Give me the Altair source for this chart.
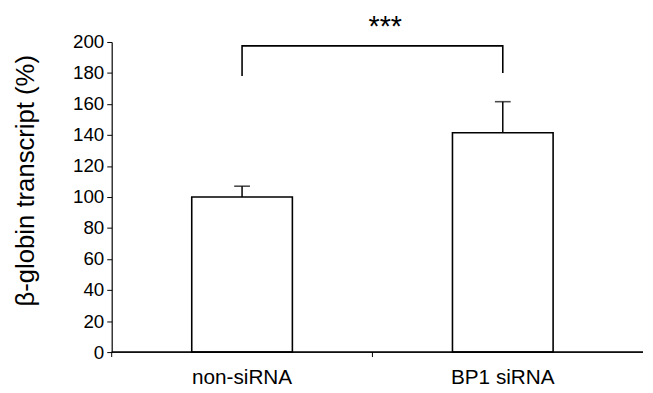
import altair as alt
import pandas as pd

categories = ["non-siRNA", "BP1 siRNA"]
means = [100, 141.5]
errors = [7, 20]
bracket_cat = ["non-siRNA", "non-siRNA", "BP1 siRNA", "BP1 siRNA"]
bracket_y = [178, 197.5, 197.5, 180]
sig_label = "***"
y_ticks = [0, 20, 40, 60, 80, 100, 120, 140, 160, 180, 200]

df = pd.DataFrame({"cat": categories, "mean": means, "err": errors})
df["upper"] = df["mean"] + df["err"]
br = pd.DataFrame({"cat": bracket_cat, "y": bracket_y, "order": list(range(len(bracket_y)))})

FONT = "Liberation Sans"
W, H = 528, 314
PI = 0.614
STEP = W / len(categories)

xscale = alt.Scale(domain=categories, paddingInner=PI, paddingOuter=PI / 2)
yscale = alt.Scale(domain=[0, 200], nice=False)

xaxis = alt.Axis(title=None, labelAngle=0, domain=False, ticks=False,
                 labelFontSize=21, labelFont=FONT, labelColor="black",
                 labelPadding=15)
yaxis = alt.Axis(values=y_ticks, title="β-globin transcript (%)",
                 titleFont=FONT, titleFontSize=26, titleFontWeight="normal",
                 titleColor="black", titlePadding=34, titleY=140,
                 labelFont=FONT, labelFontSize=19, labelColor="black",
                 labelPadding=3, tickSize=5, tickColor="black",
                 tickWidth=1, domainColor="black", domainWidth=1.2,
                 labelOverlap=False, grid=False)


def X(field="cat:N", **kw):
    return alt.X(field, scale=xscale, sort=categories, axis=xaxis, **kw)


def Y(field):
    return alt.Y(field, scale=yscale, axis=yaxis)


base = alt.Chart(df)
bars = base.mark_bar(fill="white", stroke="black", strokeWidth=1.6).encode(x=X(), y=Y("mean:Q"))

err_rule = base.mark_rule(color="black", strokeWidth=1.5).encode(
    x=X(), y=Y("mean:Q"), y2="upper:Q",
)
err_cap = base.mark_tick(color="black", size=16, thickness=1.6, orient="horizontal").encode(
    x=X(), y=Y("upper:Q"),
)

baseline = base.mark_rule(color="black", strokeWidth=1.2).encode(
    x=alt.value(0), x2=alt.value(W + 10), y=alt.value(H)
)
# category boundary ticks below the baseline (start of each step)
xticks = base.mark_rule(color="black", strokeWidth=1).encode(
    x=X(bandPosition=0),
    xOffset=alt.value(-STEP * PI / 2),
    y=alt.value(H), y2=alt.value(H + 5),
)

bracket = alt.Chart(br).mark_line(color="black", strokeWidth=1.6).encode(
    x=X(), y=Y("y:Q"), order="order:Q",
)

stars = alt.Chart(pd.DataFrame({"t": [sig_label]})).mark_text(
    font=FONT, fontSize=29, color="black", baseline="middle", align="center"
).encode(text="t:N", x=alt.value(277), y=alt.value(-15))

chart = alt.layer(bars, err_rule, err_cap, baseline, xticks, bracket, stars).properties(
    width=W, height=H,
    background="white",
    autosize=alt.AutoSizeParams(type="none"),
    padding={"left": 105, "top": 32, "right": 12, "bottom": 39},
).configure_view(stroke=None)

chart.save("out.html", embed_options={"renderer": "svg", "actions": False})
